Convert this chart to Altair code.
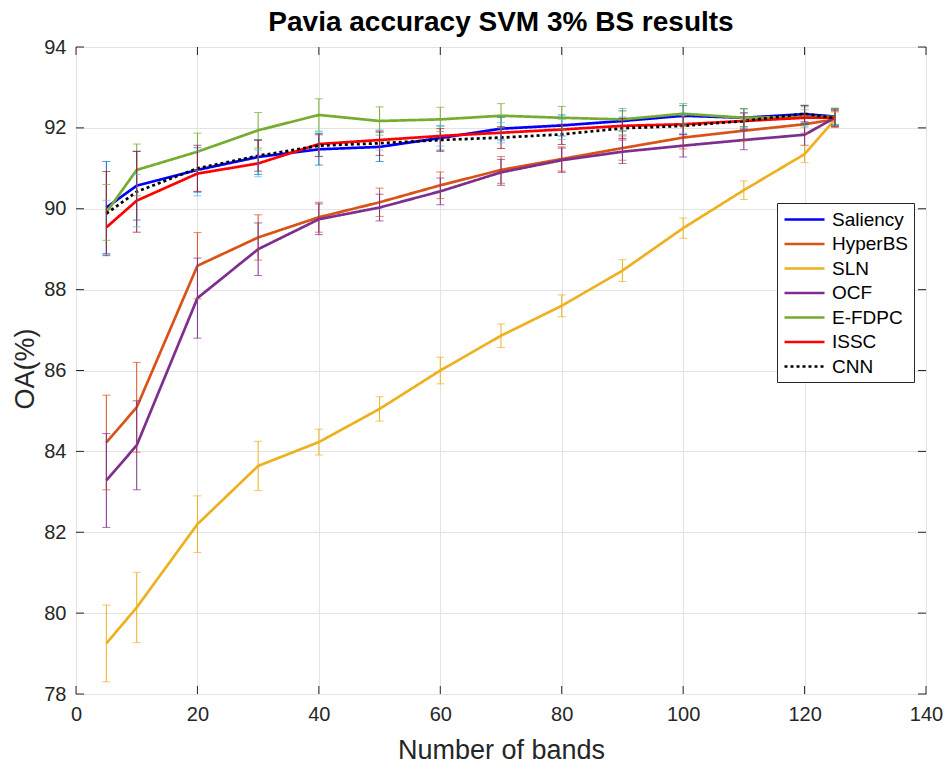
import altair as alt
import pandas as pd

# Number of selected bands (x positions)
bands = [5, 10, 20, 30, 40, 50, 60, 70, 80, 90, 100, 110, 120, 125]

series_names = ["Saliency", "HyperBS", "SLN", "OCF", "E-FDPC", "ISSC", "CNN"]

# Mean overall accuracy (%) per method
saliency = [90.03, 90.57, 90.96, 91.28, 91.47, 91.53, 91.75, 91.98, 92.06, 92.17, 92.30, 92.25, 92.34, 92.28]
hyperbs = [84.22, 85.09, 88.59, 89.29, 89.79, 90.16, 90.58, 90.96, 91.23, 91.50, 91.76, 91.93, 92.09, 92.21]
sln = [79.25, 80.14, 82.20, 83.64, 84.23, 85.05, 86.00, 86.86, 87.60, 88.47, 89.52, 90.46, 91.35, 92.21]
ocf = [83.28, 84.15, 87.79, 89.00, 89.74, 90.03, 90.43, 90.90, 91.20, 91.41, 91.56, 91.70, 91.83, 92.25]
efdpc = [89.91, 90.96, 91.41, 91.94, 92.32, 92.17, 92.21, 92.30, 92.25, 92.21, 92.35, 92.25, 92.27, 92.27]
issc = [89.54, 90.20, 90.87, 91.12, 91.60, 91.70, 91.80, 91.88, 91.96, 92.05, 92.09, 92.17, 92.25, 92.25]
cnn = [89.88, 90.42, 91.00, 91.31, 91.56, 91.62, 91.70, 91.76, 91.84, 91.99, 92.05, 92.17, 92.35, 92.24]

# Standard deviation (%) per method
saliency_err = [1.14, 0.85, 0.55, 0.43, 0.39, 0.36, 0.30, 0.28, 0.26, 0.25, 0.25, 0.22, 0.22, 0.20]
hyperbs_err = [1.17, 1.11, 0.82, 0.56, 0.37, 0.35, 0.33, 0.33, 0.30, 0.30, 0.28, 0.25, 0.22, 0.20]
sln_err = [0.95, 0.87, 0.70, 0.61, 0.32, 0.30, 0.33, 0.29, 0.27, 0.27, 0.25, 0.23, 0.21, 0.18]
ocf_err = [1.16, 1.10, 0.99, 0.65, 0.38, 0.33, 0.33, 0.32, 0.30, 0.29, 0.28, 0.24, 0.26, 0.20]
efdpc_err = [0.69, 0.64, 0.46, 0.44, 0.40, 0.35, 0.30, 0.30, 0.28, 0.27, 0.25, 0.23, 0.25, 0.22]
issc_err = [0.67, 0.65, 0.55, 0.33, 0.30, 0.25, 0.25, 0.25, 0.25, 0.22, 0.22, 0.20, 0.20, 0.20]
cnn_err = [1.04, 1.00, 0.57, 0.38, 0.27, 0.30, 0.28, 0.27, 0.25, 0.25, 0.22, 0.20, 0.20, 0.20]

line_colors = ["#0000FF", "#D95319", "#EDB120", "#7E2F8E", "#77AC30", "#FF0000", "#000000"]
err_colors = ["#0072BD", "#D95319", "#EDB120", "#7E2F8E", "#77AC30", "#4DBEEE", "#A2142F"]
dashes = [[1, 0], [1, 0], [1, 0], [1, 0], [1, 0], [1, 0], [3, 3]]

x_ticks = [0, 20, 40, 60, 80, 100, 120, 140]
y_ticks = [78, 80, 82, 84, 86, 88, 90, 92, 94]

values = [saliency, hyperbs, sln, ocf, efdpc, issc, cnn]
errors = [saliency_err, hyperbs_err, sln_err, ocf_err, efdpc_err, issc_err, cnn_err]

rows = []
for name, vals, errs, ecol in zip(series_names, values, errors, err_colors):
    for b, v, e in zip(bands, vals, errs):
        rows.append({"series": name, "bands": b, "oa": v,
                     "lo": v - e, "hi": v + e, "ecolor": ecol})
df = pd.DataFrame(rows)

W, H = 850, 647
TICK = 8
AX = "#262626"
FONT = "Liberation Sans"

x_scale = alt.Scale(domain=[0, 140], nice=False, zero=False)
y_scale = alt.Scale(domain=[78, 94], nice=False, zero=False)

x_axis = alt.Axis(values=x_ticks, grid=True, ticks=False, domain=False,
                  labelPadding=10, labelFlush=False, format="d",
                  title="Number of bands",
                  titleX=W / 2, titleY=64, titleBaseline="alphabetic",
                  titleAlign="center")
y_axis = alt.Axis(values=y_ticks, grid=True, ticks=False, domain=False,
                  labelPadding=10, labelFlush=False, format="d", title="OA(%)",
                  titleX=-51, titleY=H / 2 - 2, titleAngle=270,
                  titleBaseline="middle", titleAlign="center")

legend = alt.Legend(title=None, orient="none", legendX=701, legendY=156,
                    labelFontSize=19, labelFont=FONT, labelColor="black",
                    padding=5, strokeColor=AX, fillColor="white",
                    symbolType="M-2,0H2", symbolSize=400,
                    symbolStrokeWidth=2.5, symbolOffset=11, labelOffset=16,
                    rowPadding=2.5)


def xenc(field):
    return alt.X(field, scale=x_scale, axis=x_axis)


def yenc(field):
    return alt.Y(field, scale=y_scale, axis=y_axis)


base = alt.Chart(df)

lines = base.mark_line(strokeWidth=2.7).encode(
    x=xenc("bands:Q"),
    y=yenc("oa:Q"),
    color=alt.Color("series:N", sort=series_names,
                    scale=alt.Scale(domain=series_names, range=line_colors),
                    legend=legend),
    strokeDash=alt.StrokeDash("series:N", sort=series_names,
                              scale=alt.Scale(domain=series_names, range=dashes),
                              legend=legend),
    order=alt.Order("bands:Q"),
)

bars = base.mark_rule(strokeWidth=1).encode(
    x=xenc("bands:Q"),
    y=yenc("lo:Q"),
    y2="hi:Q",
    stroke=alt.Stroke("ecolor:N", scale=None),
)

cap_lo = base.mark_tick(orient="horizontal", size=8, thickness=1).encode(
    x=xenc("bands:Q"),
    y=yenc("lo:Q"),
    fill=alt.Fill("ecolor:N", scale=None),
)
cap_hi = base.mark_tick(orient="horizontal", size=8, thickness=1).encode(
    x=xenc("bands:Q"),
    y=yenc("hi:Q"),
    fill=alt.Fill("ecolor:N", scale=None),
)

# Inward tick marks on all four sides of the box
ydf = pd.DataFrame({"v": y_ticks})
xdf = pd.DataFrame({"v": x_ticks})
yl = alt.Chart(ydf).mark_rule(color=AX, strokeWidth=1).encode(
    y=yenc("v:Q"), x=alt.value(0), x2=alt.value(TICK))
yr = alt.Chart(ydf).mark_rule(color=AX, strokeWidth=1).encode(
    y=yenc("v:Q"), x=alt.value(W - TICK), x2=alt.value(W))
xb = alt.Chart(xdf).mark_rule(color=AX, strokeWidth=1).encode(
    x=xenc("v:Q"), y=alt.value(H - TICK), y2=alt.value(H))
xt = alt.Chart(xdf).mark_rule(color=AX, strokeWidth=1).encode(
    x=xenc("v:Q"), y=alt.value(0), y2=alt.value(TICK))

chart = alt.layer(lines, bars, cap_lo, cap_hi, yl, yr, xb, xt).properties(
    width=W, height=H,
    autosize=alt.AutoSizeParams(type="none"),
    padding={"left": 76, "top": 47, "right": 24, "bottom": 74},
    title=alt.Title("Pavia accuracy SVM 3% BS results", fontSize=28,
                    fontWeight="bold", font=FONT, color="black", offset=0),
).configure(font=FONT).configure_view(
    stroke=AX, strokeWidth=1
).configure_axis(
    labelFont=FONT, labelFontSize=20, labelColor=AX,
    titleFont=FONT, titleFontSize=27, titleFontWeight="normal", titleColor=AX,
    gridColor="#e3e3e3", gridWidth=1,
)

chart.save("out.html", embed_options={"renderer": "svg", "actions": False})
